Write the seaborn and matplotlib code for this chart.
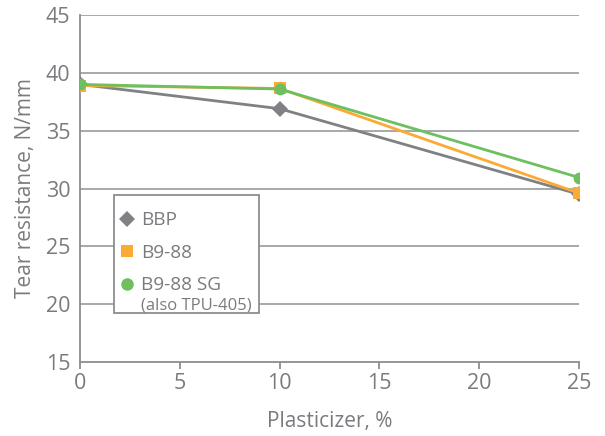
import matplotlib
matplotlib.use("Agg")
import matplotlib.pyplot as plt
import seaborn as sns
import pandas as pd
from matplotlib.lines import Line2D
from matplotlib.patches import Rectangle

plasticizer = [0, 10, 25]
bbp = [39.0, 36.9, 29.5]
b988 = [38.9, 38.65, 29.6]
b988sg = [39.0, 38.6, 30.95]
series_names = ["BBP", "B9-88", "B9-88 SG"]
subtitle = "(also TPU-405)"
x_ticks = [0, 5, 10, 15, 20, 25]
y_ticks = [15, 20, 25, 30, 35, 40, 45]

colors = {"BBP": "#808185", "B9-88": "#FAAA35", "B9-88 SG": "#6DBF5F"}
markers = {"BBP": "D", "B9-88": "s", "B9-88 SG": "o"}
msizes = {"BBP": 8, "B9-88": 8.5, "B9-88 SG": 8.5}

df = pd.DataFrame({
    "x": plasticizer * 3,
    "y": bbp + b988 + b988sg,
    "series": [series_names[0]] * 3 + [series_names[1]] * 3 + [series_names[2]] * 3,
})

sns.set_style("white")
plt.rcParams["font.family"] = ["Open Sans", "DejaVu Sans"]
text_color = "#7a7b7f"
axis_color = "#8c8d90"

fig = plt.figure(figsize=(6.05, 4.36), dpi=100)
ax = fig.add_axes([80 / 605, 1 - 362 / 436, 499 / 605, 347 / 436])

for i, name in enumerate(series_names):
    sub = df[df["series"] == name]
    sns.lineplot(data=sub, x="x", y="y", ax=ax, color=colors[name],
                 marker=markers[name], markersize=msizes[name],
                 markeredgewidth=0, linewidth=2.0, legend=False, zorder=3 + i)

ax.set_xlim(0, 25)
ax.set_ylim(15, 45)
ax.set_xticks(x_ticks)
ax.set_yticks(y_ticks)
ax.set_xticklabels([str(v) for v in x_ticks])
ax.set_yticklabels([str(v) for v in y_ticks])

for y in y_ticks[1:]:
    ax.axhline(y, color="#a0a1a4", linewidth=1.3, zorder=1)

for s in ["top", "right"]:
    ax.spines[s].set_visible(False)
for s in ["left", "bottom"]:
    ax.spines[s].set_color(axis_color)
    ax.spines[s].set_linewidth(1.3)

ax.tick_params(axis="x", direction="out", length=5, width=1.3, color=axis_color,
               labelsize=15.5, labelcolor=text_color, pad=3, bottom=True)
ax.tick_params(axis="y", length=0, labelsize=15.5, labelcolor=text_color, pad=7, left=True)

ax.set_xlabel("Plasticizer, %", fontsize=15, color=text_color, labelpad=12)
ax.set_ylabel("Tear resistance, N/mm", fontsize=15, color=text_color, labelpad=7)

# legend box
rect = Rectangle((0.068, 0.141), 0.291, 0.340, transform=ax.transAxes,
                 facecolor="white", edgecolor=axis_color, linewidth=1.3, zorder=10)
ax.add_patch(rect)

handles = [Line2D([], [], linestyle="none", marker=markers[n], color=colors[n],
                  markersize=msizes[n] + 0.5, markeredgewidth=0) for n in series_names]
leg = ax.legend(handles, series_names, loc="upper left", bbox_to_anchor=(0.0725, 0.445),
                frameon=False, fontsize=13.7, handlelength=0.74, handletextpad=0.37,
                labelspacing=0.76, borderpad=0.2, borderaxespad=0)
leg.set_zorder(11)
for t in leg.get_texts():
    t.set_color(text_color)

ax.text(0.122, 0.162, subtitle, transform=ax.transAxes, fontsize=12,
        color=text_color, va="center", ha="left", zorder=12)

fig.savefig("out.png", dpi=100)
